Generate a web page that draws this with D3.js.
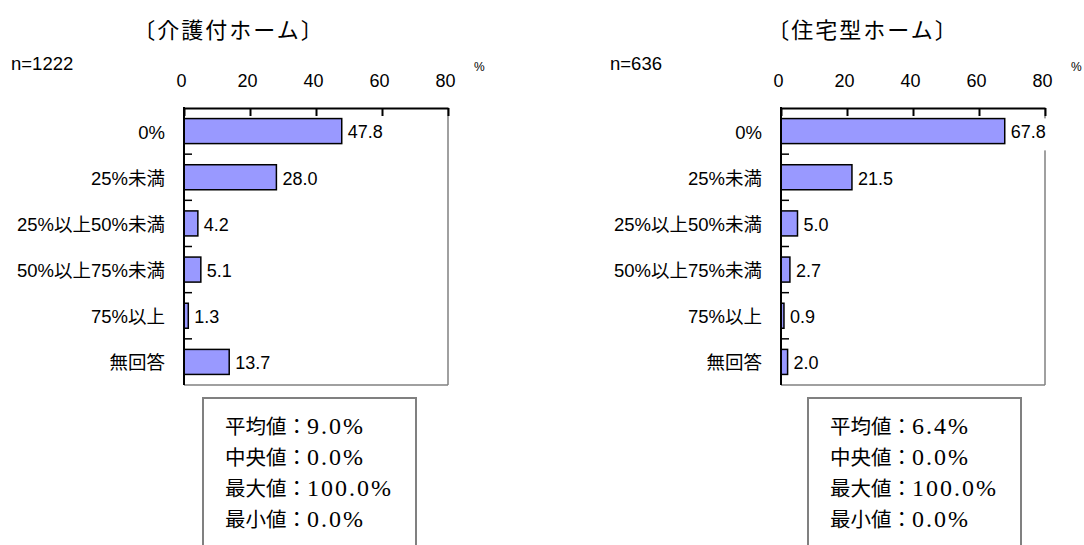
<!DOCTYPE html>
<html><head><meta charset="utf-8">
<script src="https://cdn.jsdelivr.net/npm/d3@7"></script>
<style>body{margin:0;background:#fff}svg{display:block}</style>
</head><body>
<svg id="chart" width="1084" height="545"></svg>
<script>
const categories = ["0%","25%未満","25%以上50%未満","50%以上75%未満","75%以上","無回答"];
const valuesA = [47.8, 28.0, 4.2, 5.1, 1.3, 13.7];
const valuesB = [67.8, 21.5, 5.0, 2.7, 0.9, 2.0];
const tickValues = [0, 20, 40, 60, 80];
const titles = ["〔介護付ホーム〕", "〔住宅型ホーム〕"];
const sampleSizes = ["n=1222", "n=636"];
const statLabels = ["平均値：", "中央値：", "最大値：", "最小値："];
const statsA = ["9.0%", "0.0%", "100.0%", "0.0%"];
const statsB = ["6.4%", "0.0%", "100.0%", "0.0%"];

const svg = d3.select("#chart");
const sans = "'Liberation Sans', Arial, 'Noto Sans CJK JP', sans-serif";

function panel(cfg) {
  const g = svg.append("g");
  const top = 108, bottom = 385, plotW = 264;
  const x = d3.scaleLinear().domain([0, 80]).range([cfg.x0, cfg.x0 + plotW]);
  const y = d3.scaleBand().domain(categories).range([top, bottom]).paddingInner(0.458).paddingOuter(0.229);

  // title & n
  g.append("text").attr("x", cfg.titleX).attr("y", 38).attr("text-anchor", "middle")
    .style("font-family", "'Noto Sans CJK JP', sans-serif").style("font-size", "22px")
    .style("letter-spacing", "2px").text(cfg.title);
  g.append("text").attr("x", cfg.nX).attr("y", 70).style("font-family", sans)
    .style("font-size", "18.5px").text(cfg.n);
  g.append("text").attr("x", cfg.x0 + plotW + 26).attr("y", 71).style("font-family", sans)
    .style("font-size", "12px").text("%");

  // right & bottom gray frame
  g.append("line").attr("x1", cfg.x0 + plotW).attr("x2", cfg.x0 + plotW).attr("y1", top).attr("y2", bottom)
    .attr("stroke", "#808080").attr("stroke-width", 1.5);
  g.append("line").attr("x1", cfg.x0).attr("x2", cfg.x0 + plotW).attr("y1", bottom).attr("y2", bottom)
    .attr("stroke", "#808080").attr("stroke-width", 1.5);

  // bars
  g.selectAll("rect.bar").data(cfg.values).enter().append("rect").attr("class", "bar")
    .attr("x", x(0)).attr("y", (d, i) => y(categories[i]))
    .attr("width", d => x(d) - x(0)).attr("height", y.bandwidth())
    .attr("fill", "#9999ff").attr("stroke", "#000").attr("stroke-width", 1.5);

  // value labels with white background
  const lab = g.selectAll("g.vl").data(cfg.values).enter().append("g").attr("class", "vl");
  lab.append("text").attr("x", d => x(d) + 6).attr("y", (d, i) => y(categories[i]) + y.bandwidth() / 2 + 1)
    .attr("dy", "0.35em").style("font-family", sans).style("font-size", "18px")
    .text(d => d.toFixed(1));
  lab.each(function () {
    const t = d3.select(this).select("text");
    const b = t.node().getBBox();
    d3.select(this).insert("rect", "text").attr("x", b.x - 2).attr("y", b.y - 4)
      .attr("width", b.width + 4).attr("height", b.height + 12).attr("fill", "#fff");
  });

  // top axis
  const ax = g.append("g").attr("transform", `translate(0,${top})`)
    .call(d3.axisTop(x).tickValues(tickValues).tickSizeInner(-8).tickSizeOuter(0).tickPadding(21));
  ax.select(".domain").attr("stroke", "#000").attr("stroke-width", 2);
  ax.selectAll(".tick line").attr("stroke", "#000").attr("stroke-width", 2);
  ax.selectAll(".tick text").attr("dx", -3).style("font-family", sans).style("font-size", "18px").attr("fill", "#000");

  // left axis
  g.append("line").attr("x1", cfg.x0).attr("x2", cfg.x0).attr("y1", top - 1).attr("y2", bottom)
    .attr("stroke", "#000").attr("stroke-width", 2);
  const step = y.step();
  g.selectAll("line.ct").data(d3.range(1, categories.length)).enter().append("line").attr("class", "ct")
    .attr("x1", cfg.x0).attr("x2", cfg.x0 + 8)
    .attr("y1", k => top + k * step).attr("y2", k => top + k * step)
    .attr("stroke", "#000").attr("stroke-width", 1.5);
  g.selectAll("text.cat").data(categories).enter().append("text").attr("class", "cat")
    .attr("x", cfg.x0 - 19).attr("y", d => y(d) + y.bandwidth() / 2 + 1).attr("dy", "0.35em")
    .attr("text-anchor", "end").style("font-family", sans).style("font-size", "18.5px").text(d => d);

  // stats box
  g.append("rect").attr("x", cfg.boxX).attr("y", 398).attr("width", 213).attr("height", 170)
    .attr("fill", "#fff").attr("stroke", "#808080").attr("stroke-width", 2);
  const st = g.selectAll("text.st").data(statLabels).enter().append("text").attr("class", "st")
    .attr("x", cfg.boxX + 22).attr("y", (d, i) => 434 + i * 31);
  st.append("tspan").style("font-family", "'Noto Sans CJK JP', sans-serif").style("font-size", "20.5px").text(d => d);
  st.append("tspan").style("font-family", "'Liberation Serif', 'Times New Roman', serif").style("font-size", "24px")
    .style("letter-spacing", "2px").text((d, i) => cfg.stats[i]);
}

panel({x0: 184, titleX: 229, nX: 11, title: titles[0], n: sampleSizes[0], values: valuesA, stats: statsA, boxX: 203});
panel({x0: 781, titleX: 863, nX: 610, title: titles[1], n: sampleSizes[1], values: valuesB, stats: statsB, boxX: 808});
</script>
</body></html>
